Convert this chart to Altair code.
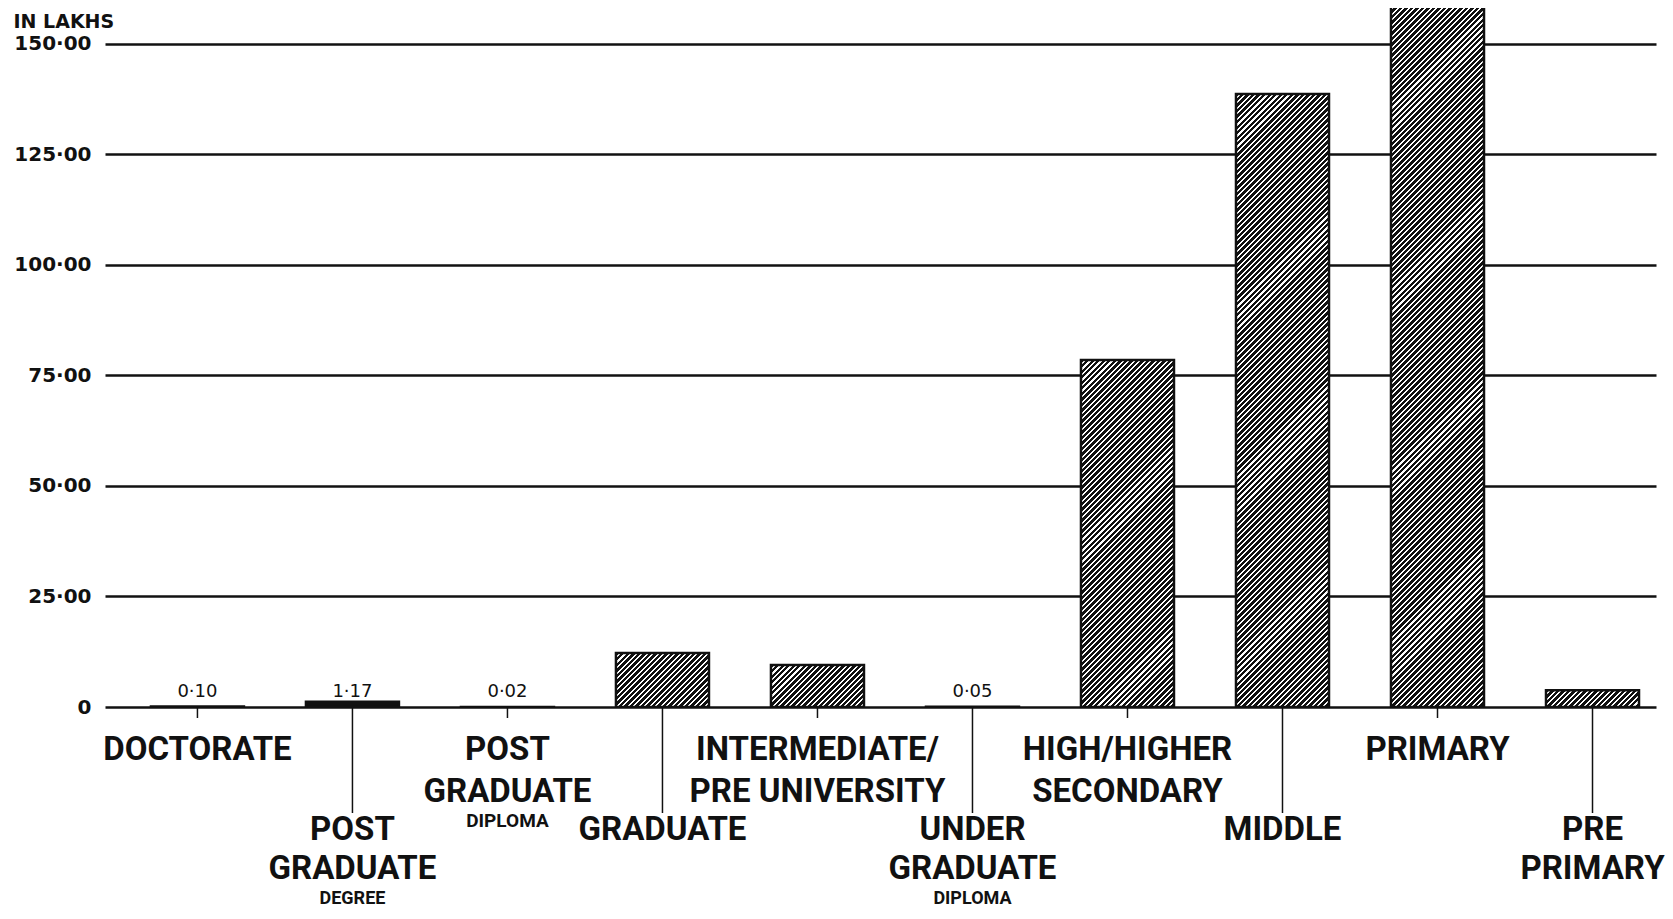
import math
import altair as alt
import pandas as pd

# ---------------- data ----------------
keys = ["doctorate", "pg_degree", "pg_diploma", "graduate", "intermediate",
        "ug_diploma", "high", "middle", "primary", "pre_primary"]
values = [0.10, 1.17, 0.02, 12.2, 9.5, 0.05, 78.5, 138.7, 170.0, 3.8]
value_text = ["0·10", "1·17", "0·02", "", "", "0·05", "", "", "", ""]
main_text = ["DOCTORATE", "POST\nGRADUATE", "POST\nGRADUATE", "GRADUATE",
             "INTERMEDIATE/\nPRE UNIVERSITY", "UNDER\nGRADUATE",
             "HIGH/HIGHER\nSECONDARY", "MIDDLE", "PRIMARY", "PRE\nPRIMARY"]
sub_text = ["", "DEGREE", "DIPLOMA", "", "", "DIPLOMA", "", "", "", ""]
label_row = [0, 1, 0, 1, 0, 1, 0, 1, 0, 1]
y_ticks = [0, 25, 50, 75, 100, 125, 150]
y_title = "IN LAKHS"

df = pd.DataFrame({"key": keys, "value": values, "vtext": value_text,
                   "main": main_text, "sub": sub_text, "row": label_row})

# ---------------- layout ----------------
W, H = 1551, 699
YMAX = 158.14
P_INNER, P_OUTER, ALIGN = 0.40, 0.203, 0.73
step = W / (len(keys) - P_INNER + 2 * P_OUTER)
bar_w = step * (1 - P_INNER)
px_per = H / YMAX


def hatch(h_px, w_px, period=3.9, ink=0.62):
    r = h_px / w_px
    s = (1 + r) / (1 + r * r)
    total = (w_px + h_px) / math.sqrt(2)
    n = total / period
    stops = []
    k = 0
    while k < n:
        a = round(k / n, 5)
        b = round(min((k + ink) / n, 1), 5)
        c = round(min((k + 1) / n, 1), 5)
        stops += [{"offset": a, "color": "#111"}, {"offset": b, "color": "#111"},
                  {"offset": b, "color": "white"}, {"offset": c, "color": "white"}]
        k += 1
    return {"gradient": "linear", "x1": 0, "y1": 0, "x2": s, "y2": s * r,
            "stops": stops}


conds = []
for k, v in zip(keys, values):
    h = v * px_per
    if h > 8:
        conds.append({"test": f"datum.key === '{k}'", "value": hatch(h, bar_w)})

xscale = alt.Scale(paddingInner=P_INNER, paddingOuter=P_OUTER, align=ALIGN)
X = alt.X("key:N", sort=keys, scale=xscale, axis=None)

base = alt.Chart(df)

bars = base.mark_bar(stroke="#111", strokeWidth=2.5, clip=True).encode(
    x=X,
    y=alt.Y("value:Q", scale=alt.Scale(domain=[0, YMAX], nice=False),
            axis=alt.Axis(values=y_ticks, grid=True, gridColor="#111",
                          gridWidth=2.5, gridOpacity=1, domain=False,
                          ticks=False,
                          labelExpr="datum.value == 0 ? '0' : replace(format(datum.value, '.2f'), '.', '·')",
                          labelFont="DejaVu Sans", labelFontWeight="bold",
                          labelFontSize=20, labelColor="#111", labelPadding=14,
                          title=y_title, titleAngle=0, titleAlign="left",
                          titleBaseline="alphabetic", titleX=-92, titleY=19,
                          titleFont="DejaVu Sans", titleFontSize=19,
                          titleFontWeight="bold", titleColor="#111")),
    fill=alt.FillValue("#111", condition=conds),
)

vlabels = base.transform_filter("datum.vtext != ''").mark_text(
    baseline="alphabetic", dy=-10, fontSize=18, font="DejaVu Sans", color="#111"
).encode(x=X, y=alt.datum(0), text="vtext:N")

tick0 = base.transform_filter("datum.row == 0").mark_rule(
    color="#111", strokeWidth=1.5).encode(x=X, y=alt.datum(0), y2=alt.value(710))
tick1 = base.transform_filter("datum.row == 1").mark_rule(
    color="#111", strokeWidth=1.5).encode(x=X, y=alt.datum(0), y2=alt.value(805))

FONT = "Roboto"
main0 = base.transform_filter("datum.row == 0").mark_text(
    baseline="alphabetic", lineBreak="\n", lineHeight=42, fontSize=33,
    font=FONT, fontWeight="bold", color="#111"
).encode(x=X, y=alt.value(752), text="main:N")
sub0 = base.transform_filter("datum.row == 0 && datum.sub != ''").mark_text(
    baseline="alphabetic", fontSize=19, font=FONT, fontWeight="bold", color="#111"
).encode(x=X, y=alt.value(819), text="sub:N")
main1 = base.transform_filter("datum.row == 1").mark_text(
    baseline="alphabetic", lineBreak="\n", lineHeight=39, fontSize=33,
    font=FONT, fontWeight="bold", color="#111"
).encode(x=X, y=alt.value(832), text="main:N")
sub1 = base.transform_filter("datum.row == 1 && datum.sub != ''").mark_text(
    baseline="alphabetic", fontSize=18, font=FONT, fontWeight="bold", color="#111"
).encode(x=X, y=alt.value(896), text="sub:N")

chart = alt.layer(bars, vlabels, tick0, tick1, main0, sub0, main1, sub1).properties(
    width=W, height=H,
    autosize=alt.AutoSizeParams(type="none"),
    padding={"left": 97, "top": 0, "right": 9, "bottom": 202},
    background="white",
).configure_view(strokeWidth=0)

chart.save("out.html", embed_options={"renderer": "svg", "actions": False})
